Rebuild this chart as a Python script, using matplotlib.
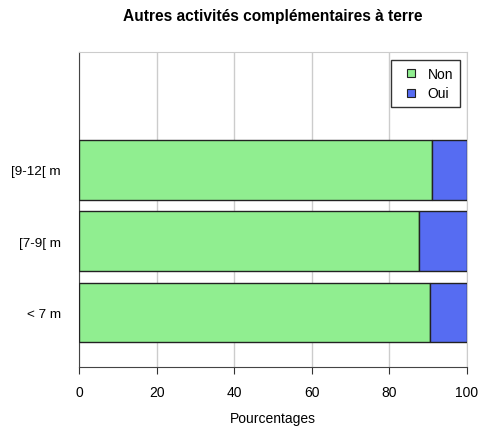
import matplotlib.pyplot as plt
from matplotlib.lines import Line2D

plt.rcParams['font.family'] = ['Liberation Sans', 'DejaVu Sans']

categories = ["< 7 m", "[7-9[ m", "[9-12[ m"]
non = [90.5, 87.5, 91.1]
oui = [9.5, 12.5, 8.9]
col_non = "#90ee90"
col_oui = "#566cf2"

fig = plt.figure(figsize=(4.81, 4.35), dpi=100)
ax = fig.add_axes([0.1642, 0.1547, 0.8067, 0.7233])

pos = range(len(categories))
ax.barh(pos, non, height=0.84, color=col_non, edgecolor="#222222", linewidth=1, zorder=3)
ax.barh(pos, oui, left=non, height=0.84, color=col_oui, edgecolor="#222222", linewidth=1, zorder=3)

ax.set_xlim(0, 100)
ax.set_ylim(-0.76, 3.65)
ax.set_xticks([0, 20, 40, 60, 80, 100])
ax.set_yticks(list(pos))
ax.set_yticklabels(categories)
ax.tick_params(axis='y', length=0, pad=13, labelsize=9.7)
ax.tick_params(axis='x', length=5, color="#333333", labelsize=10, pad=8)
ax.grid(axis='x', color="#cccccc", linewidth=1, zorder=0)

for s in ['top', 'right']:
    ax.spines[s].set_color("#cccccc")
for s in ['left', 'bottom']:
    ax.spines[s].set_color("#444444")

ax.set_title("Autres activités complémentaires à terre", fontsize=11.2, fontweight='bold', pad=23)
ax.set_xlabel("Pourcentages", fontsize=10, labelpad=9)

handles = [Line2D([], [], ls='none', marker='s', markersize=6, markerfacecolor=col_non,
                  markeredgecolor="#222222", markeredgewidth=0.8),
           Line2D([], [], ls='none', marker='s', markersize=6, markerfacecolor=col_oui,
                  markeredgecolor="#222222", markeredgewidth=0.8)]
leg = ax.legend(handles, ["Non", "Oui"], loc='upper right', bbox_to_anchor=(0.982, 0.975),
                borderaxespad=0, fancybox=False, framealpha=1, edgecolor="#333333",
                fontsize=10, handlelength=1.85, borderpad=0.5, labelspacing=0.4,
                handletextpad=0.3)
leg.get_frame().set_linewidth(1)

fig.savefig("out.png", dpi=100)
